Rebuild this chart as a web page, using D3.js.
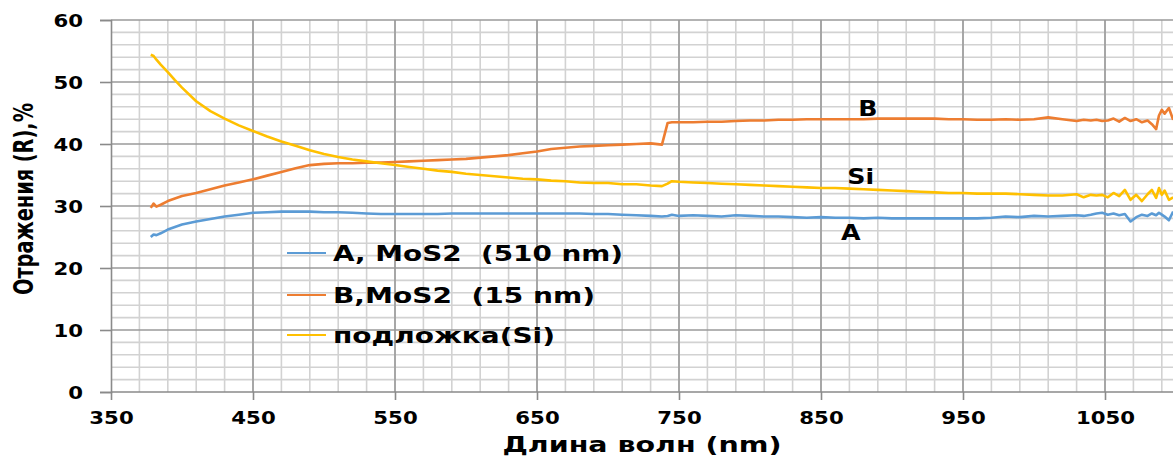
<!DOCTYPE html>
<html>
<head>
<meta charset="utf-8">
<script src="https://cdn.jsdelivr.net/npm/d3@7"></script>
<style>
  html, body { margin: 0; padding: 0; background: #fff; }
  svg { display: block; }
  text { font-family: "DejaVu Sans", Verdana, sans-serif; font-weight: bold; fill: #000; }
</style>
</head>
<body>
<svg id="chart" width="1173" height="457"></svg>
<script>
// Wavelength grid (nm) shared by all three spectra
const wavelengths = [
  378, 380, 382, 385, 390, 395,
  400, 410, 420, 430, 440, 450, 460, 470, 480, 490, 500, 510, 520, 530, 540, 550, 560,
  570, 580, 590, 600, 610, 620, 630, 640, 650, 660, 670, 680, 690, 700, 710, 720, 730,
  738, 742, 745,
  750, 760, 770, 780, 790, 800, 810, 820, 830, 840, 850, 860, 870, 880, 890, 900, 910,
  920, 930, 940, 950, 960, 970, 980, 990, 1000, 1010, 1020, 1030,
  1035,
  1040, 1044, 1048, 1052, 1056, 1060, 1064, 1068, 1072, 1076, 1080,
  1083, 1086, 1088, 1090, 1092, 1095, 1098
];

// Reflectance, %: A — MoS2 film 510 nm
const reflA = [
  25.0, 25.4, 25.3, 25.6, 26.2, 26.6,
  27.0, 27.5, 27.9, 28.3, 28.6, 28.9, 29.0, 29.1, 29.1, 29.1, 29.0, 29.0, 28.9, 28.8, 28.7, 28.7, 28.7,
  28.7, 28.7, 28.8, 28.8, 28.8, 28.8, 28.8, 28.8, 28.8, 28.8, 28.8, 28.8, 28.7, 28.7, 28.6, 28.5, 28.4,
  28.3, 28.4, 28.6,
  28.4, 28.5, 28.4, 28.3, 28.5, 28.4, 28.3, 28.3, 28.2, 28.1, 28.2, 28.1, 28.1, 28.0, 28.1, 28.0, 28.0,
  28.0, 28.0, 28.0, 28.0, 28.0, 28.1, 28.3, 28.2, 28.4, 28.3, 28.4, 28.5,
  28.4,
  28.6, 28.8, 28.9, 28.6, 28.8, 28.5, 28.7, 27.5, 28.2, 28.6, 28.4,
  28.8, 28.5, 28.9, 28.6, 28.3, 27.7, 29.1
];

// Reflectance, %: B — MoS2 film 15 nm
const reflB = [
  29.7, 30.4, 29.9, 30.2, 30.8, 31.2,
  31.6, 32.1, 32.7, 33.3, 33.8, 34.3, 34.9, 35.5, 36.1, 36.6, 36.8, 36.9, 36.9, 37.0, 37.0, 37.1, 37.2,
  37.3, 37.4, 37.5, 37.6, 37.8, 38.0, 38.2, 38.5, 38.8, 39.2, 39.4, 39.6, 39.7, 39.8, 39.9, 40.0, 40.1,
  39.9, 43.4, 43.5,
  43.5, 43.5, 43.6, 43.6, 43.7, 43.8, 43.8, 43.9, 43.9, 44.0, 44.0, 44.0, 44.0, 44.0, 44.1, 44.1, 44.1,
  44.1, 44.1, 44.0, 44.0, 43.9, 43.9, 44.0, 43.9, 44.0, 44.3, 44.0, 43.7,
  43.9,
  43.8, 43.9, 43.7, 43.8, 44.1, 43.6, 44.2, 43.7, 44.0, 43.5, 43.8,
  43.2, 42.4, 44.6, 45.5, 44.9, 45.8, 43.9
];

// Reflectance, %: bare Si substrate
const reflSi = [
  54.4, 54.2, 53.6, 52.8, 51.6, 50.3,
  49.1, 46.9, 45.3, 44.1, 43.0, 42.1, 41.2, 40.4, 39.7, 39.0, 38.4, 37.9, 37.5, 37.2, 36.9, 36.6, 36.3,
  36.0, 35.7, 35.5, 35.2, 35.0, 34.8, 34.6, 34.4, 34.3, 34.1, 34.0, 33.8, 33.7, 33.7, 33.5, 33.5, 33.3,
  33.2, 33.6, 34.0,
  33.9, 33.8, 33.7, 33.6, 33.5, 33.4, 33.3, 33.2, 33.1, 33.0, 32.9, 32.9, 32.8, 32.7, 32.6, 32.5, 32.4,
  32.3, 32.2, 32.1, 32.1, 32.0, 32.0, 32.0, 31.9, 31.8, 31.7, 31.7, 31.9,
  31.4,
  31.8, 31.7, 31.8, 31.4, 32.1, 31.6, 32.6, 31.0, 31.8, 30.8, 31.9,
  32.6, 31.3, 32.9, 31.8, 32.5, 31.0, 31.4
];

const seriesNames = ["A, MoS2  (510 nm)", "B,MoS2  (15 nm)", "подложка(Si)"];
const seriesColors = ["#5B9BD5", "#ED7D31", "#FFC000"];
const xTicks = [350, 450, 550, 650, 750, 850, 950, 1050];
const yTicks = [0, 10, 20, 30, 40, 50, 60];
const curveLabels = [
  { text: "B", wl: 883, r: 45.8 },
  { text: "Si", wl: 878, r: 34.9 },
  { text: "A", wl: 871, r: 25.8 }
];
const xTitle = "Длина волн (nm)";
const yTitle = "Отражения (R),%";

const W = 1173, H = 457;
const svg = d3.select("#chart");

const x = d3.scaleLinear().domain([350, 1050]).range([111, 1105]);
const y = d3.scaleLinear().domain([0, 60]).range([392, 20]);
const xEnd = W;

// grid: minor every 20 nm / 2 %, major on the labelled ticks
const grid = svg.append("g");
const xMinor = d3.range(370, 1100, 20).filter(v => x(v) <= xEnd);
const yMinor = d3.range(2, 60, 2).filter(v => v % 10 !== 0);
grid.selectAll(".vminor").data(xMinor).join("line")
  .attr("x1", d => x(d)).attr("x2", d => x(d))
  .attr("y1", y(60)).attr("y2", y(0))
  .attr("stroke", "#d2d2d2").attr("stroke-width", 1.6);
grid.selectAll(".hminor").data(yMinor).join("line")
  .attr("x1", x(350)).attr("x2", xEnd)
  .attr("y1", d => y(d)).attr("y2", d => y(d))
  .attr("stroke", "#d2d2d2").attr("stroke-width", 1.6);
grid.selectAll(".vmajor").data(xTicks.slice(1)).join("line")
  .attr("x1", d => x(d)).attr("x2", d => x(d))
  .attr("y1", y(60)).attr("y2", y(0))
  .attr("stroke", "#9a9a9a").attr("stroke-width", 1.6);
grid.selectAll(".hmajor").data(yTicks.slice(1)).join("line")
  .attr("x1", x(350)).attr("x2", xEnd)
  .attr("y1", d => y(d)).attr("y2", d => y(d))
  .attr("stroke", "#9a9a9a").attr("stroke-width", 1.6);

// axes
const yAxis = svg.append("g")
  .attr("transform", `translate(${x(350)},0)`)
  .call(d3.axisLeft(y).tickValues(yTicks).tickFormat(d3.format("d")).tickSize(11).tickPadding(0));
const xAxis = svg.append("g")
  .attr("transform", `translate(0,${y(0)})`)
  .call(d3.axisBottom(x).tickValues(xTicks).tickFormat(d3.format("d")).tickSize(8).tickPadding(0));
[yAxis, xAxis].forEach(a => {
  a.select(".domain").attr("stroke", "#8a8a8a").attr("stroke-width", 1.6);
  a.selectAll(".tick line").attr("stroke", "#8a8a8a").attr("stroke-width", 1.6);
});
xAxis.select(".domain").attr("d", `M${x(350)},0H${xEnd}`);
yAxis.selectAll(".tick text")
  .attr("x", null).attr("dy", null)
  .attr("transform", "translate(-28,6) scale(1.25,1)")
  .attr("text-anchor", "end")
  .style("font-size", "17px")
  .style("font-family", "DejaVu Sans").style("font-weight", "bold");
xAxis.selectAll(".tick text")
  .attr("y", null).attr("dy", null)
  .attr("transform", "translate(0,32) scale(1.25,1)")
  .attr("text-anchor", "middle")
  .style("font-size", "17px")
  .style("font-family", "DejaVu Sans").style("font-weight", "bold");

// spectra
const line = d3.line().x(d => x(d[0])).y(d => y(d[1]));
const series = [reflA, reflB, reflSi];
const plot = svg.append("g");
series.forEach((vals, i) => {
  plot.append("path")
    .datum(wavelengths.map((w, k) => [w, vals[k]]))
    .attr("d", line)
    .attr("fill", "none")
    .attr("stroke", seriesColors[i])
    .attr("stroke-width", 2.6)
    .attr("stroke-linejoin", "round");
});

// curve labels
svg.append("g").selectAll("text").data(curveLabels).join("text")
  .attr("transform", d => `translate(${x(d.wl)},${y(d.r)}) scale(1.15,1)`)
  .attr("text-anchor", "middle")
  .attr("dy", "0.36em")
  .style("font-size", "22px")
  .text(d => d.text);

// legend
const legendRows = [253, 295, 335];
const legendWidths = [290, 262, 222];
const legend = svg.append("g");
seriesNames.forEach((name, i) => {
  legend.append("line")
    .attr("x1", 287).attr("x2", 326)
    .attr("y1", legendRows[i]).attr("y2", legendRows[i])
    .attr("stroke", seriesColors[i]).attr("stroke-width", 1.8);
  legend.append("text")
    .attr("x", 333).attr("y", legendRows[i])
    .attr("dy", "0.36em")
    .attr("textLength", legendWidths[i])
    .attr("lengthAdjust", "spacingAndGlyphs")
    .style("font-size", "22px")
    .style("white-space", "pre")
    .text(name);
});

// axis titles
svg.append("text")
  .attr("x", 642).attr("y", 452)
  .attr("text-anchor", "middle")
  .attr("textLength", 279)
  .attr("lengthAdjust", "spacingAndGlyphs")
  .style("font-size", "22px")
  .text(xTitle);
svg.append("text")
  .attr("transform", "translate(33,199) scale(1.3,1) rotate(-90)")
  .attr("text-anchor", "middle")
  .attr("textLength", 192)
  .attr("lengthAdjust", "spacingAndGlyphs")
  .style("font-size", "20px")
  .text(yTitle);
</script>
</body>
</html>
